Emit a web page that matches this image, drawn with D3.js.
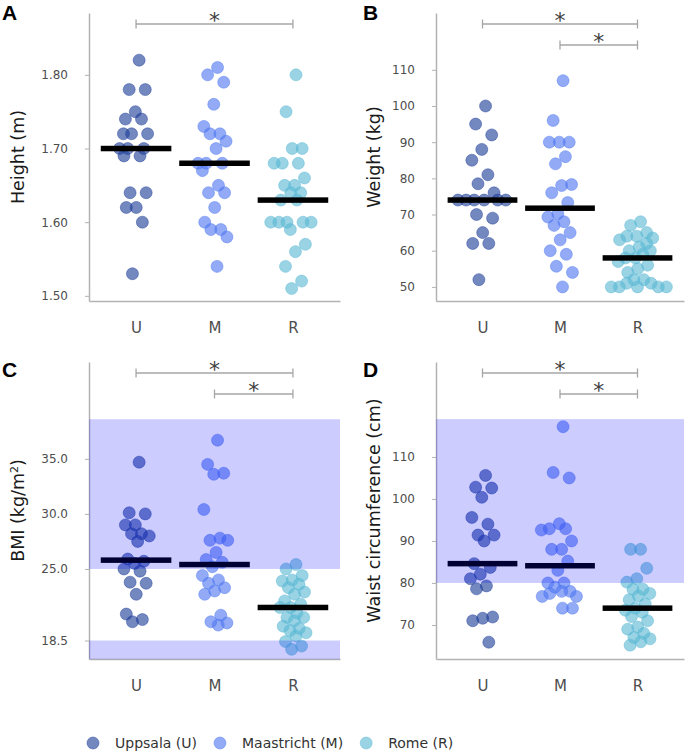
<!DOCTYPE html>
<html>
<head>
<meta charset="utf-8">
<script src="https://cdn.jsdelivr.net/npm/d3@7"></script>
<style>
  body { margin: 0; background: #fff; }
  text { font-family: "DejaVu Sans", Verdana, sans-serif; }
</style>
</head>
<body>
<svg id="chart" width="685" height="754"></svg>
<script>
// sites and their legend names
var sites = ["U", "M", "R"];
var siteNames = ["Uppsala (U)", "Maastricht (M)", "Rome (R)"];

// A - height (m)
var heightU = [1.82, 1.78, 1.78, 1.75, 1.74, 1.74, 1.72, 1.72, 1.72, 1.70, 1.70, 1.70, 1.69, 1.69, 1.64, 1.64, 1.62, 1.62, 1.60, 1.53];
var heightM = [1.81, 1.80, 1.79, 1.76, 1.73, 1.72, 1.72, 1.71, 1.70, 1.68, 1.68, 1.68, 1.67, 1.65, 1.64, 1.64, 1.62, 1.60, 1.59, 1.59, 1.58, 1.54];
var heightR = [1.80, 1.75, 1.70, 1.70, 1.68, 1.68, 1.68, 1.66, 1.65, 1.65, 1.64, 1.64, 1.63, 1.63, 1.60, 1.60, 1.60, 1.60, 1.60, 1.59, 1.57, 1.56, 1.54, 1.52, 1.51];
var heightTicks = [1.5, 1.6, 1.7, 1.8];

// B - weight (kg)
var weightU = [100, 95, 92, 88, 85, 81, 78.5, 76, 74, 74, 74, 74, 74, 74, 70, 69, 65, 62, 62, 52];
var weightM = [107, 96, 90, 90, 90, 86, 84, 78.3, 78, 76, 73.3, 70.2, 69.3, 68, 67, 65, 63, 60, 59, 55.7, 54, 50];
var weightR = [68, 67, 65, 64, 64, 63.5, 63, 62, 61, 60, 60, 59, 58, 58, 57, 56, 55, 54, 52, 52, 51, 51, 50, 50, 50, 50, 50];
var weightTicks = [50, 60, 70, 80, 90, 100, 110];

// C - BMI (kg/m2)
var bmiU = [34.7, 30.1, 30.0, 29.0, 29.0, 28.2, 28.2, 28.0, 27.5, 25.9, 25.7, 25.5, 25.0, 24.8, 23.8, 23.7, 22.7, 20.9, 20.4, 20.2];
var bmiM = [36.7, 34.5, 33.7, 33.6, 30.4, 27.8, 27.6, 27.6, 26.5, 25.85, 25.6, 25.2, 24.4, 24.0, 23.7, 23.3, 23.0, 22.7, 20.8, 20.2, 20.1, 19.9];
var bmiR = [25.4, 25.0, 24.4, 24.0, 23.9, 23.6, 23.3, 22.9, 22.7, 22.1, 21.8, 21.5, 21.5, 21.0, 20.6, 20.6, 20.3, 19.8, 19.6, 19.4, 19.2, 18.9, 18.4, 18.0, 17.7];
var bmiTicks = [18.5, 25, 30, 35];
var bmiBands = [[16.8, 18.5], [25, 38.6]];

// D - waist circumference (cm)
var waistU = [105.6, 102.8, 102.6, 100.4, 95.6, 94.0, 91.4, 91.4, 90.0, 84.6, 83.7, 82.1, 81.0, 79.3, 78.6, 71.9, 71.6, 71.0, 65.9];
var waistM = [117.2, 106.3, 105.0, 94.1, 92.9, 92.9, 92.6, 90.0, 88.0, 88.0, 85.2, 83.0, 80.0, 80.0, 79.0, 78.0, 78.0, 77.5, 76.8, 76.8, 74.0, 74.0];
var waistR = [88, 88, 83.5, 81, 80.2, 78.5, 78.5, 77.5, 76.9, 76, 75, 74, 73.5, 73, 72, 71, 69.5, 69, 68, 67, 66.7, 66, 65.2];
var waistTicks = [70, 80, 90, 100, 110];
var waistBands = [[80, 119]];

var siteColor = { U: "#1f3f9a", M: "#5078f0", R: "#5bb8d4" };
var dotR = 6;

var svg = d3.select("#chart");

var panels = [
  { tag: "A", title: "Height (m)", data: { U: heightU, M: heightM, R: heightR }, ticks: heightTicks, fmt: ".2f",
    domain: [1.493, 1.884], bands: [], comps: [["U", "R"]],
    x0: 89, x1: 340, yTop: 13, yBot: 301, titleX: 18, tagX: 2, tagY: 20 },
  { tag: "B", title: "Weight (kg)", data: { U: weightU, M: weightM, R: weightR }, ticks: weightTicks, fmt: "d",
    domain: [46.1, 125.7], bands: [], comps: [["U", "R"], ["M", "R"]],
    x0: 436, x1: 684, yTop: 13, yBot: 301, titleX: 374, tagX: 363, tagY: 20 },
  { tag: "C", title: "BMI", data: { U: bmiU, M: bmiM, R: bmiR }, ticks: bmiTicks, fmt: ".1f",
    domain: [16.82, 43.8], bands: bmiBands, comps: [["U", "R"], ["M", "R"]],
    x0: 89, x1: 340, yTop: 362, yBot: 659, titleX: 18, tagX: 2, tagY: 377 },
  { tag: "D", title: "Waist circumference (cm)", data: { U: waistU, M: waistM, R: waistR }, ticks: waistTicks, fmt: "d",
    domain: [61.9, 132.6], bands: waistBands, comps: [["U", "R"], ["M", "R"]],
    x0: 436, x1: 684, yTop: 362, yBot: 659, titleX: 374, tagX: 363, tagY: 377 }
];

// jitter-like spread: each dot wants a scattered offset (golden-ratio sequence),
// then gets nudged to the nearest spot that doesn't sit too far on top of another dot
function swarm(values, y) {
  var minD = dotR * 1.35, spread = 13;
  var placed = [];
  var pts = values.map(function(v, i) {
    return { v: v, y: y(v), pref: (((i + 1) * 0.618034) % 1 - 0.5) * 2 * spread };
  }).sort(function(a, b) { return a.y - b.y; });
  pts.forEach(function(p) {
    var cands = [p.pref], ints = [];
    placed.forEach(function(q) {
      var dy = Math.abs(q.y - p.y);
      if (dy < minD) {
        var dx = Math.sqrt(minD * minD - dy * dy);
        ints.push([q.dx - dx, q.dx + dx]);
        cands.push(q.dx - dx, q.dx + dx);
      }
    });
    cands.sort(function(a, b) { return Math.abs(a - p.pref) - Math.abs(b - p.pref); });
    p.dx = cands.find(function(c) {
      return ints.every(function(iv) { return c <= iv[0] + 1e-6 || c >= iv[1] - 1e-6; });
    });
    placed.push(p);
  });
  return pts;
}

panels.forEach(function(p) {
  var g = svg.append("g");
  var x = d3.scalePoint().domain(sites).range([p.x0, p.x1]).padding(0.6);
  var y = d3.scaleLinear().domain(p.domain).range([p.yBot, p.yTop]);

  // y axis
  var ya = g.append("g")
    .attr("transform", "translate(" + p.x0 + ",0)")
    .call(d3.axisLeft(y).tickValues(p.ticks).tickFormat(d3.format(p.fmt)).tickSize(4).tickSizeOuter(0).tickPadding(17));
  ya.select(".domain").attr("stroke", "#b3b3b3").attr("stroke-width", 1.5);
  ya.selectAll(".tick line").attr("stroke", "#b3b3b3");
  ya.selectAll(".tick text").attr("fill", "#4d4d4d").style("font-size", "12px");

  // x axis
  var xa = g.append("g")
    .attr("transform", "translate(0," + p.yBot + ")")
    .call(d3.axisBottom(x).tickSize(0).tickSizeOuter(0));
  xa.select(".domain").attr("stroke", "#b3b3b3").attr("stroke-width", 1.5);
  xa.selectAll(".tick text").attr("fill", "#4d4d4d").style("font-size", "15px")
    .attr("y", 32).attr("dy", null);

  // axis title
  var t = g.append("text")
    .attr("transform", "translate(" + p.titleX + "," + ((p.yTop + p.yBot) / 2) + ") rotate(-90)")
    .attr("text-anchor", "middle").attr("dy", "0.35em")
    .attr("fill", "#1a1a1a").style("font-size", "17.5px")
    .text(p.title);
  if (p.tag === "C") {
    t.text("BMI (kg/m");
    t.append("tspan").attr("baseline-shift", "super").style("font-size", "11px").text("2");
    t.append("tspan").text(")");
  }

  // panel tag
  g.append("text").attr("x", p.tagX).attr("y", p.tagY)
    .style("font-family", "'Liberation Sans', Arial, sans-serif")
    .style("font-weight", "bold").style("font-size", "21px").attr("fill", "#000")
    .text(p.tag);

  // dots
  sites.forEach(function(s) {
    var pts = swarm(p.data[s], y);
    g.append("g").selectAll("circle").data(pts).enter().append("circle")
      .attr("cx", function(d) { return x(s) + d.dx; })
      .attr("cy", function(d) { return d.y; })
      .attr("r", dotR)
      .attr("fill", siteColor[s]).attr("fill-opacity", 0.62)
      .attr("stroke", siteColor[s]).attr("stroke-opacity", 0.45).attr("stroke-width", 1);
  });

  // median bars
  var barW = x.step() * 0.9;
  g.append("g").selectAll("rect").data(sites).enter().append("rect")
    .attr("x", function(s) { return x(s) - barW / 2; })
    .attr("y", function(s) { return y(d3.median(p.data[s])) - 2.75; })
    .attr("width", barW).attr("height", 5.5)
    .attr("fill", "#000");

  // reference ranges, drawn over the marks
  g.append("g").selectAll("rect").data(p.bands).enter().append("rect")
    .attr("x", p.x0).attr("width", p.x1 - p.x0)
    .attr("y", function(b) { return y(b[1]); })
    .attr("height", function(b) { return y(b[0]) - y(b[1]); })
    .attr("fill", "#0000ff").attr("fill-opacity", 0.2);

  // significance brackets
  p.comps.forEach(function(c, i) {
    var by = p.yTop + 11 + i * 21;
    var xa0 = x(c[0]), xa1 = x(c[1]);
    var bg = g.append("g").attr("stroke", "#a6a6a6").attr("stroke-width", 1.3);
    bg.append("line").attr("x1", xa0).attr("x2", xa1).attr("y1", by).attr("y2", by);
    bg.append("line").attr("x1", xa0).attr("x2", xa0).attr("y1", by - 4.5).attr("y2", by + 4.5);
    bg.append("line").attr("x1", xa1).attr("x2", xa1).attr("y1", by - 4.5).attr("y2", by + 4.5);
    g.append("text").attr("x", (xa0 + xa1) / 2).attr("y", by + 4)
      .attr("text-anchor", "middle").attr("fill", "#404040").style("font-size", "22px")
      .text("*");
  });
});

// legend
var lg = svg.append("g").attr("transform", "translate(0,743)");
var cursor = 93;
sites.forEach(function(s, i) {
  lg.append("circle").attr("cx", cursor).attr("cy", 0).attr("r", dotR)
    .attr("fill", siteColor[s]).attr("fill-opacity", 0.62)
    .attr("stroke", siteColor[s]).attr("stroke-opacity", 0.45);
  var tx = lg.append("text").attr("x", cursor + 22).attr("y", 0).attr("dy", "0.35em")
    .attr("fill", "#333").style("font-size", "14px").text(siteNames[i]);
  cursor += 22 + tx.node().getComputedTextLength() + 23;
});
</script>
</body>
</html>
